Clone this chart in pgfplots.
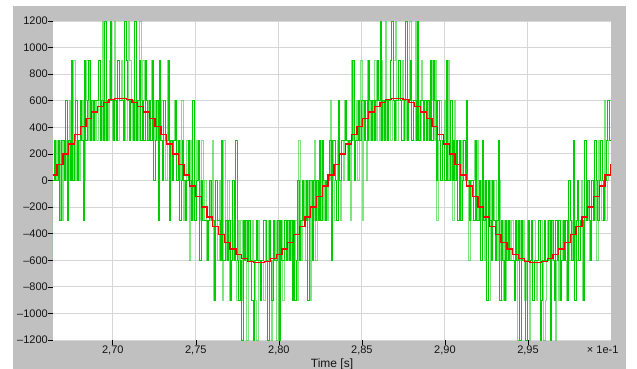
\documentclass[border=0pt]{standalone}
\usepackage{pgfplots}
\pgfplotsset{compat=1.18}
\usepackage{fontspec}
\setmainfont{Liberation Sans}
\definecolor{framegray}{RGB}{192,192,192}
\definecolor{gridc}{RGB}{214,214,214}
\definecolor{dgreen}{RGB}{0,204,0}
\definecolor{redc}{RGB}{255,0,0}
\definecolor{txt}{RGB}{20,20,20}
\newcommand{\lblfont}{\fontsize{11bp}{13bp}\selectfont}
\newcommand{\ttlfont}{\fontsize{12bp}{14bp}\selectfont}
\begin{document}
\begin{tikzpicture}
\fill[white] (0,0) rectangle (637bp,-369bp);
\fill[framegray] (13bp,-6bp) rectangle (626bp,-369bp);
\begin{axis}[
  at={(53bp,-21bp)}, anchor=north west,
  scale only axis, width=558bp, height=319bp,
  xmin=1.152, xmax=388.22, ymin=-1200, ymax=1200,
  axis background/.style={fill=white},
  axis line style={draw=none},
  xtick={42.624,100.225,157.825,215.425,273.026,330.626},
  xticklabels={{2,70},{2,75},{2,80},{2,85},{2,90},{2,95}},
  ytick={-1200,-1000,-800,-600,-400,-200,0,200,400,600,800,1000,1200},
  yticklabels={--1200,--1000,--800,--600,--400,--200,0,200,400,600,800,1000,1200},
  xtick pos=lower, ytick pos=left, tick align=outside,
  major tick length=4.5bp,
  tick style={black, line width=0.6bp},
  grid=major, major grid style={gridc, line width=1bp},
  ticklabel style={font=\lblfont, text=txt},
  yticklabel style={inner xsep=0.5bp},
  xticklabel style={inner ysep=1.5bp},
  clip mode=individual,
]
% light green series
\addplot[const plot, dgreen, opacity=0.5, line width=1bp] coordinates {
(0,0)
(2.5,0)(3.5,300)(4.5,0)(5.5,-300)
(6.5,300)(7.5,-300)(8.5,300)(9.5,0)
(10.5,300)(11.5,0)(12.5,600)(13.5,0)
(14.5,0)(15.5,900)(16.5,0)(17.5,300)
(18.5,300)(19.5,0)(20.5,300)(21.5,600)
(22.5,0)(23.5,600)(24.5,900)(25.5,300)
(26.5,900)(27.5,300)(28.5,600)(29.5,300)
(30.5,600)(31.5,300)(32.5,600)(33.5,600)
(34.5,300)(35.5,1200)(36.5,300)(37.5,600)
(38.5,600)(39.5,300)(40.5,900)(41.5,600)
(42.5,300)(43.5,1200)(44.5,600)(45.5,300)
(46.5,300)(47.5,600)(48.5,900)(49.5,600)
(50.5,600)(51.5,300)(52.5,600)(53.5,1200)
(54.5,900)(55.5,600)(56.5,300)(57.5,600)
(58.5,300)(59.5,600)(60.5,300)(61.5,1200)
(62.5,600)(63.5,900)(64.5,600)(65.5,300)
(66.5,600)(67.5,300)(68.5,600)(69.5,900)
(70.5,300)(71.5,600)(72.5,300)(73.5,600)
(74.5,600)(75.5,300)(76.5,600)(77.5,300)
(78.5,300)(79.5,0)(80.5,900)(81.5,300)
(82.5,300)(83.5,0)(84.5,300)(85.5,600)
(86.5,300)(87.5,300)(88.5,300)(89.5,0)
(90.5,600)(91.5,-300)(92.5,0)(93.5,300)
(94.5,300)(95.5,-600)(96.5,300)(97.5,0)
(98.5,-300)(99.5,0)(100.5,300)(101.5,0)
(102.5,-300)(103.5,0)(104.5,300)(105.5,-300)
(106.5,0)(107.5,-600)(108.5,-300)(109.5,0)
(110.5,-300)(111.5,300)(112.5,-900)(113.5,-300)
(114.5,-300)(115.5,-600)(116.5,0)(117.5,-300)
(118.5,-900)(119.5,300)(120.5,-600)(121.5,-300)
(122.5,0)(123.5,-900)(124.5,-300)(125.5,-600)
(126.5,-300)(127.5,-600)(128.5,-900)(129.5,-300)
(130.5,-600)(131.5,-300)(132.5,-900)(133.5,-600)
(134.5,-300)(135.5,-1200)(136.5,-300)(137.5,-600)
(138.5,-600)(139.5,-300)(140.5,-600)(141.5,-900)
(142.5,-1200)(143.5,-300)(144.5,-600)(145.5,-600)
(146.5,-600)(147.5,-900)(148.5,-300)(149.5,-600)
(150.5,-300)(151.5,-600)(152.5,-1200)(153.5,-600)
(154.5,-600)(155.5,-300)(156.5,-1200)(157.5,-300)
(158.5,-600)(159.5,-300)(160.5,-900)(161.5,-600)
(162.5,-600)(163.5,-600)(164.5,-300)(165.5,-600)
(166.5,-300)(167.5,-900)(168.5,-600)(169.5,-300)
(170.5,-900)(171.5,300)(172.5,-300)(173.5,-600)
(174.5,-300)(175.5,0)(176.5,-600)(177.5,-300)
(178.5,0)(179.5,-900)(180.5,0)(181.5,-300)
(182.5,300)(183.5,-600)(184.5,0)(185.5,-300)
(186.5,-300)(187.5,300)(188.5,-300)(189.5,0)
(190.5,0)(191.5,-300)(192.5,0)(193.5,600)
(194.5,300)(195.5,0)(196.5,-300)(197.5,0)
(198.5,300)(199.5,0)(200.5,-300)(201.5,300)
(202.5,0)(203.5,600)(204.5,300)(205.5,0)
(206.5,300)(207.5,-300)(208.5,900)(209.5,300)
(210.5,300)(211.5,600)(212.5,0)(213.5,300)
(214.5,900)(215.5,-300)(216.5,600)(217.5,300)
(218.5,0)(219.5,900)(220.5,300)(221.5,600)
(222.5,300)(223.5,600)(224.5,900)(225.5,300)
(226.5,600)(227.5,300)(228.5,900)(229.5,600)
(230.5,300)(231.5,1200)(232.5,300)(233.5,600)
(234.5,600)(235.5,300)(236.5,600)(237.5,900)
(238.5,1200)(239.5,300)(240.5,600)(241.5,600)
(242.5,600)(243.5,900)(244.5,300)(245.5,600)
(246.5,300)(247.5,600)(248.5,1200)(249.5,600)
(250.5,600)(251.5,300)(252.5,1200)(253.5,300)
(254.5,600)(255.5,300)(256.5,900)(257.5,600)
(258.5,600)(259.5,600)(260.5,300)(261.5,600)
(262.5,300)(263.5,900)(264.5,600)(265.5,300)
(266.5,900)(267.5,-300)(268.5,300)(269.5,600)
(270.5,300)(271.5,0)(272.5,600)(273.5,300)
(274.5,0)(275.5,900)(276.5,0)(277.5,300)
(278.5,-300)(279.5,600)(280.5,0)(281.5,300)
(282.5,300)(283.5,-300)(284.5,300)(285.5,0)
(286.5,0)(287.5,300)(288.5,0)(289.5,-600)
(290.5,0)(291.5,-300)(292.5,0)(293.5,300)
(294.5,-300)(295.5,300)(296.5,-300)(297.5,0)
(298.5,-300)(299.5,0)(300.5,-600)(301.5,0)
(302.5,0)(303.5,-900)(304.5,0)(305.5,-300)
(306.5,-300)(307.5,0)(308.5,-300)(309.5,-600)
(310.5,0)(311.5,-600)(312.5,-900)(313.5,-300)
(314.5,-900)(315.5,-300)(316.5,-600)(317.5,-300)
(318.5,-600)(319.5,-300)(320.5,-600)(321.5,-600)
(322.5,-300)(323.5,-1200)(324.5,-300)(325.5,-600)
(326.5,-600)(327.5,-300)(328.5,-900)(329.5,-600)
(330.5,-300)(331.5,-1200)(332.5,-600)(333.5,-300)
(334.5,-300)(335.5,-600)(336.5,-900)(337.5,-600)
(338.5,-600)(339.5,-300)(340.5,-600)(341.5,-1200)
(342.5,-900)(343.5,-600)(344.5,-300)(345.5,-600)
(346.5,-300)(347.5,-600)(348.5,-300)(349.5,-1200)
(350.5,-600)(351.5,-900)(352.5,-600)(353.5,-300)
(354.5,-600)(355.5,-300)(356.5,-600)(357.5,-900)
(358.5,-300)(359.5,-600)(360.5,-300)(361.5,-600)
(362.5,-600)(363.5,-300)(364.5,-600)(365.5,-300)
(366.5,-300)(367.5,0)(368.5,-900)(369.5,-300)
(370.5,-300)(371.5,0)(372.5,-300)(373.5,-600)
(374.5,-300)(375.5,-300)(376.5,-300)(377.5,0)
(378.5,-600)(379.5,300)(380.5,0)(381.5,-300)
(382.5,-300)(383.5,600)(384.5,-300)(385.5,0)
(386.5,300)(387.5,600)(388.5,300)(390,300)
};
% dark green series
\addplot[const plot, dgreen, line width=1bp] coordinates {
(0,-600)(1,0)(2,300)(3,0)
(4,0)(5,300)(6,-300)(7,300)
(8,300)(9,0)(10,600)(11,-300)
(12,300)(13,0)(14,900)(15,0)
(16,300)(17,600)(18,0)(19,300)
(20,600)(21,300)(22,-300)(23,900)
(24,300)(25,600)(26,900)(27,300)
(28,600)(29,300)(30,600)(31,600)
(32,600)(33,900)(34,300)(35,600)
(36,300)(37,1200)(38,300)(39,600)
(40,600)(41,1200)(42,600)(43,300)
(44,600)(45,300)(46,900)(47,600)
(48,600)(49,600)(50,300)(51,1200)
(52,900)(53,600)(54,300)(55,600)
(56,600)(57,300)(58,1200)(59,300)
(60,600)(61,900)(62,300)(63,600)
(64,300)(65,900)(66,600)(67,300)
(68,600)(69,300)(70,900)(71,0)
(72,300)(73,600)(74,-300)(75,900)
(76,300)(77,0)(78,600)(79,300)
(80,300)(81,900)(82,-300)(83,300)
(84,0)(85,300)(86,600)(87,0)
(88,300)(89,-300)(90,0)(91,300)
(92,0)(93,-300)(94,0)(95,300)
(96,0)(97,-300)(98,600)(99,-300)
(100,-300)(101,0)(102,300)(103,-600)
(104,0)(105,-300)(106,-300)(107,-300)
(108,-600)(109,-300)(110,0)(111,-300)
(112,-300)(113,-900)(114,0)(115,-300)
(116,-300)(117,-600)(118,300)(119,-600)
(120,-600)(121,-300)(122,-600)(123,-300)
(124,-900)(125,-600)(126,0)(127,-600)
(128,300)(129,-600)(130,-900)(131,-600)
(132,-1200)(133,-300)(134,-600)(135,-300)
(136,-600)(137,-300)(138,-600)(139,-900)
(140,-1200)(141,-600)(142,-300)(143,-600)
(144,-600)(145,-900)(146,-600)(147,-300)
(148,-300)(149,-600)(150,-1200)(151,-300)
(152,-600)(153,-900)(154,-300)(155,-600)
(156,-600)(157,-300)(158,-1200)(159,-300)
(160,-600)(161,-600)(162,-300)(163,-600)
(164,-300)(165,-600)(166,-300)(167,-900)
(168,-300)(169,-900)(170,-600)(171,0)
(172,-600)(173,-300)(174,0)(175,-300)
(176,-300)(177,0)(178,-900)(179,0)
(180,0)(181,-600)(182,0)(183,-300)
(184,0)(185,-300)(186,300)(187,-300)
(188,300)(189,0)(190,-300)(191,0)
(192,0)(193,300)(194,-600)(195,300)
(196,300)(197,0)(198,-300)(199,600)
(200,0)(201,300)(202,300)(203,300)
(204,600)(205,300)(206,0)(207,300)
(208,300)(209,900)(210,0)(211,300)
(212,300)(213,600)(214,300)(215,600)
(216,600)(217,300)(218,600)(219,300)
(220,900)(221,600)(222,300)(223,600)
(224,300)(225,600)(226,900)(227,600)
(228,1200)(229,300)(230,600)(231,300)
(232,600)(233,300)(234,600)(235,900)
(236,1200)(237,600)(238,300)(239,600)
(240,600)(241,900)(242,600)(243,300)
(244,300)(245,600)(246,1200)(247,300)
(248,600)(249,900)(250,300)(251,600)
(252,600)(253,300)(254,1200)(255,300)
(256,600)(257,600)(258,300)(259,600)
(260,300)(261,600)(262,300)(263,900)
(264,300)(265,900)(266,600)(267,0)
(268,600)(269,300)(270,0)(271,300)
(272,300)(273,0)(274,900)(275,0)
(276,0)(277,600)(278,0)(279,300)
(280,0)(281,300)(282,-300)(283,300)
(284,-300)(285,0)(286,300)(287,0)
(288,600)(289,0)(290,-300)(291,0)
(292,0)(293,-300)(294,300)(295,-300)
(296,-300)(297,0)(298,-600)(299,300)
(300,-300)(301,0)(302,-900)(303,0)
(304,-300)(305,-600)(306,0)(307,-300)
(308,-600)(309,-300)(310,300)(311,-900)
(312,-300)(313,-600)(314,-900)(315,-300)
(316,-600)(317,-300)(318,-600)(319,-600)
(320,-600)(321,-900)(322,-300)(323,-600)
(324,-300)(325,-1200)(326,-300)(327,-600)
(328,-600)(329,-1200)(330,-600)(331,-300)
(332,-600)(333,-300)(334,-900)(335,-600)
(336,-600)(337,-600)(338,-300)(339,-1200)
(340,-900)(341,-600)(342,-300)(343,-600)
(344,-600)(345,-300)(346,-1200)(347,-300)
(348,-600)(349,-900)(350,-300)(351,-600)
(352,-300)(353,-900)(354,-600)(355,-300)
(356,-600)(357,-300)(358,-900)(359,0)
(360,-300)(361,-600)(362,300)(363,-900)
(364,-300)(365,0)(366,-600)(367,-300)
(368,-300)(369,-900)(370,300)(371,-300)
(372,0)(373,-300)(374,-600)(375,0)
(376,-300)(377,300)(378,0)(379,-300)
(380,0)(381,300)(382,0)(383,-300)
(384,0)(385,300)(386,600)(387,300)(389,300)
};
% red staircase
\addplot[const plot, redc, line width=1.3bp] coordinates {
(0,40.5)(4,121)(8,199.3)(12,274.2)(16,344.5)(20,408.8)(24,466.1)(28,515.5)(32,556.1)(36,587.1)(40,608.1)(44,618.7)(48,618.7)(52,608.1)(56,587.1)(60,556.1)(64,515.5)(68,466.1)(72,408.8)(76,344.5)(80,274.2)(84,199.3)(88,121)(92,40.5)
(96,-40.5)(100,-121)(104,-199.3)(108,-274.2)(112,-344.5)(116,-408.8)(120,-466.1)(124,-515.5)(128,-556.1)(132,-587.1)(136,-608.1)(140,-618.7)(144,-618.7)(148,-608.1)(152,-587.1)(156,-556.1)(160,-515.5)(164,-466.1)(168,-408.8)(172,-344.5)(176,-274.2)(180,-199.3)(184,-121)(188,-40.5)
(192,40.5)(196,121)(200,199.3)(204,274.2)(208,344.5)(212,408.8)(216,466.1)(220,515.5)(224,556.1)(228,587.1)(232,608.1)(236,618.7)(240,618.7)(244,608.1)(248,587.1)(252,556.1)(256,515.5)(260,466.1)(264,408.8)(268,344.5)(272,274.2)(276,199.3)(280,121)(284,40.5)
(288,-40.5)(292,-121)(296,-199.3)(300,-274.2)(304,-344.5)(308,-408.8)(312,-466.1)(316,-515.5)(320,-556.1)(324,-587.1)(328,-608.1)(332,-618.7)(336,-618.7)(340,-608.1)(344,-587.1)(348,-556.1)(352,-515.5)(356,-466.1)(360,-408.8)(364,-344.5)(368,-274.2)(372,-199.3)(376,-121)(380,-40.5)
(384,40.5)(388,121)(390,121)
};
\node[anchor=base east, font=\lblfont, text=txt, xshift=11bp, yshift=-13.5bp] at (rel axis cs:1,0) {× 1e-1};
\node[anchor=base, font=\ttlfont, text=txt, yshift=-27.5bp] at (rel axis cs:0.5,0) {Time [s]};
\end{axis}
\pgfresetboundingbox
\useasboundingbox (0,0) rectangle (637bp,-369bp);
\end{tikzpicture}
\end{document}
